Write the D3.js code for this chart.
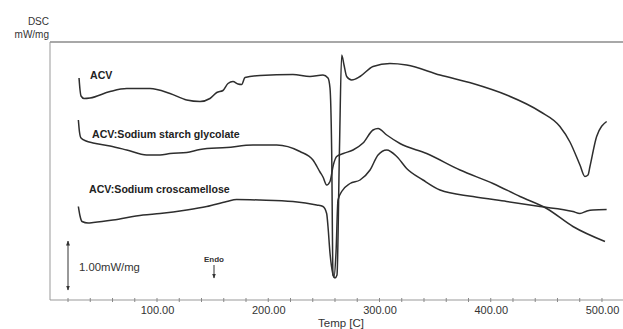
<!DOCTYPE html>
<html>
<head>
<meta charset="utf-8">
<script src="https://cdn.jsdelivr.net/npm/d3@7"></script>
<style>
  body { margin: 0; background: #fff; }
  svg { display: block; font-family: "Liberation Sans", Arial, sans-serif; }
</style>
</head>
<body>
<div id="chart"></div>
<script>
// temperature [C] / heat flow [mW/mg, arbitrary offset]
const acvTemp = [29.9, 30.8, 31.7, 34.4, 39.8, 57.8, 72.8, 93.7, 111.7, 126.7, 138.7, 147.6, 153.7, 159.3, 163.8, 168.3, 172.8, 176.1, 179.1, 192.6, 222.2, 237.5, 249.2, 253.7, 255.5, 257.0, 258.2, 260.0, 261.8, 264.0, 266.0, 268.1, 270.5, 275.0, 282.5, 294.2, 309.4, 324.4, 354.4, 384.0, 414.3, 444.3, 462.2, 471.2, 480.2, 484.7, 487.4, 489.2, 495.2, 504.2];
const acvFlow = [4.44, 4.2, 4.08, 4.03, 4.04, 4.17, 4.23, 4.23, 4.13, 4.0, 3.97, 4.03, 4.15, 4.19, 4.33, 4.37, 4.32, 4.31, 4.45, 4.49, 4.51, 4.47, 4.5, 4.44, 4.24, 3.0, 0.5, 0.44, 0.5, 3.0, 4.9, 4.7, 4.47, 4.4, 4.47, 4.67, 4.73, 4.7, 4.5, 4.33, 4.1, 3.77, 3.47, 3.16, 2.7, 2.47, 2.5, 2.67, 3.27, 3.57];

const ssgTemp = [29.3, 30.3, 31.7, 36.2, 42.5, 57.8, 72.8, 90.7, 102.7, 111.7, 126.7, 138.7, 162.7, 186.3, 207.6, 228.5, 240.2, 246.5, 249.2, 252.5, 255.5, 258.5, 261.5, 267.5, 276.2, 285.2, 294.2, 298.7, 306.5, 318.4, 342.4, 372.4, 402.0, 426.3, 450.3, 473.9, 502.7];
const ssgFlow = [3.6, 3.36, 3.24, 3.18, 3.14, 3.08, 3.0, 2.9, 2.9, 2.93, 2.95, 3.01, 3.05, 3.1, 3.1, 2.97, 2.8, 2.56, 2.46, 2.3, 2.37, 2.7, 2.87, 2.93, 3.0, 3.14, 3.4, 3.43, 3.3, 3.13, 2.93, 2.6, 2.33, 2.07, 1.83, 1.47, 1.17];

const ccsTemp = [29.3, 30.8, 32.6, 38.0, 42.7, 60.4, 87.4, 102.7, 126.7, 144.7, 162.7, 171.6, 192.6, 222.2, 243.5, 249.2, 252.5, 253.7, 255.5, 257.9, 259.1, 260.9, 262.7, 266.0, 273.5, 282.5, 291.5, 298.7, 306.5, 315.5, 324.4, 339.1, 354.4, 384.0, 414.3, 444.3, 473.9, 480.2, 486.5, 491.9, 504.2];
const ccsFlow = [1.87, 1.68, 1.57, 1.54, 1.55, 1.6, 1.7, 1.73, 1.8, 1.87, 1.97, 2.01, 2.0, 1.97, 1.9, 1.87, 1.73, 1.47, 0.94, 0.54, 0.46, 0.94, 2.0, 2.17, 2.33, 2.4, 2.6, 2.9, 3.0, 2.87, 2.63, 2.4, 2.2, 2.07, 1.97, 1.87, 1.77, 1.73, 1.78, 1.8, 1.81];

const seriesNames = ['ACV', 'ACV:Sodium starch glycolate', 'ACV:Sodium croscamellose'];
const tickLabels = [100, 200, 300, 400, 500];

const width = 623;
const height = 329;

const x = d3.scaleLinear().domain([3.8, 518.9]).range([50, 623]);
const y = d3.scaleLinear().domain([0, 5.16]).range([300, 42]);

const svg = d3.select('#chart')
  .append('svg')
  .attr('width', width)
  .attr('height', height);

// frame
svg.append('line')
  .attr('x1', 50).attr('x2', width)
  .attr('y1', y(5.16)).attr('y2', y(5.16))
  .attr('stroke', '#a8a8a8')
  .attr('stroke-width', 2);

svg.append('line')
  .attr('x1', 50).attr('x2', 50)
  .attr('y1', y(5.16)).attr('y2', y(0))
  .attr('stroke', '#999')
  .attr('stroke-width', 1);

// x axis
const xAxis = d3.axisBottom(x)
  .tickValues(tickLabels)
  .tickFormat(d3.format('.2f'))
  .tickSize(0)
  .tickPadding(6);

const gx = svg.append('g')
  .attr('transform', `translate(0, ${y(0)})`)
  .call(xAxis);

gx.select('.domain')
  .attr('d', `M50,0H${width}`)
  .attr('stroke', '#999');

gx.selectAll('text')
  .attr('font-size', 11)
  .attr('font-family', '"Liberation Sans", Arial, sans-serif')
  .attr('fill', '#333');

gx.selectAll('.minor')
  .data(d3.range(20, 520, 20))
  .enter().append('line')
  .attr('class', 'minor')
  .attr('x1', d => x(d)).attr('x2', d => x(d))
  .attr('y1', -2).attr('y2', 2)
  .attr('stroke', '#888');

svg.append('text')
  .attr('x', 318).attr('y', 327)
  .attr('font-size', 11.5)
  .attr('fill', '#333')
  .text('Temp  [C]');

// y unit
svg.append('text')
  .attr('x', 49).attr('y', 25)
  .attr('text-anchor', 'end')
  .attr('font-size', 10)
  .attr('fill', '#333')
  .text('DSC');

svg.append('text')
  .attr('x', 49).attr('y', 38)
  .attr('text-anchor', 'end')
  .attr('font-size', 10)
  .attr('fill', '#333')
  .text('mW/mg');

// curves
const line = d3.line()
  .x(d => x(d[0]))
  .y(d => y(d[1]))
  .curve(d3.curveMonotoneX);

const series = [
  d3.zip(acvTemp, acvFlow),
  d3.zip(ssgTemp, ssgFlow),
  d3.zip(ccsTemp, ccsFlow),
];

svg.selectAll('.curve')
  .data(series)
  .enter().append('path')
  .attr('class', 'curve')
  .attr('d', line)
  .attr('fill', 'none')
  .attr('stroke', '#2e2e2e')
  .attr('stroke-width', 1.5)
  .attr('stroke-linejoin', 'round');

const labelPos = [[90, 79], [92, 138], [89, 193]];

svg.selectAll('.label')
  .data(seriesNames)
  .enter().append('text')
  .attr('class', 'label')
  .attr('x', (d, i) => labelPos[i][0])
  .attr('y', (d, i) => labelPos[i][1])
  .attr('font-size', 10.6)
  .attr('font-weight', 'bold')
  .attr('fill', '#222')
  .text(d => d);

// scale bar 1.00 mW/mg
const defs = svg.append('defs');
defs.append('marker')
  .attr('id', 'head')
  .attr('viewBox', '0 0 10 10')
  .attr('refX', 9).attr('refY', 5)
  .attr('markerWidth', 5).attr('markerHeight', 5)
  .attr('orient', 'auto-start-reverse')
  .append('path')
  .attr('d', 'M0,1L10,5L0,9Z')
  .attr('fill', '#333');

svg.append('line')
  .attr('x1', 68).attr('x2', 68)
  .attr('y1', y(1.18)).attr('y2', y(0.2))
  .attr('stroke', '#333')
  .attr('stroke-width', 1)
  .attr('marker-start', 'url(#head)')
  .attr('marker-end', 'url(#head)');

svg.append('text')
  .attr('x', 79).attr('y', 271)
  .attr('font-size', 11.3)
  .attr('fill', '#333')
  .text('1.00mW/mg');

svg.append('text')
  .attr('x', 214).attr('y', 262)
  .attr('text-anchor', 'middle')
  .attr('font-size', 8)
  .attr('font-weight', 'bold')
  .attr('fill', '#333')
  .text('Endo');

svg.append('line')
  .attr('x1', 214).attr('x2', 214)
  .attr('y1', 265).attr('y2', 278)
  .attr('stroke', '#333')
  .attr('stroke-width', 1)
  .attr('marker-end', 'url(#head)');
</script>
</body>
</html>
